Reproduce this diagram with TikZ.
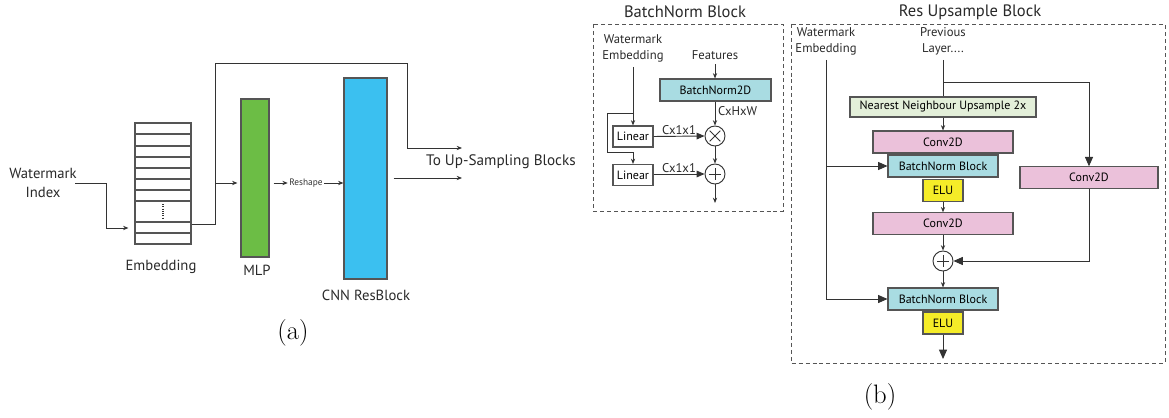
\documentclass[tikz,border=0pt]{standalone}
\usepackage{fontspec}
\newfontfamily\diagfont{PT Sans}
\usetikzlibrary{arrows.meta,positioning,calc}

\definecolor{linegray}{HTML}{333333}
\definecolor{boxgray}{HTML}{555555}
\definecolor{mlpgreen}{HTML}{6CBD45}
\definecolor{cnnblue}{HTML}{3BC0F0}
\definecolor{bnteal}{HTML}{A9DCE2}
\definecolor{convpink}{HTML}{EBC1DA}
\definecolor{nngreen}{HTML}{E3EFD9}
\definecolor{eluyellow}{HTML}{F5EC28}

\tikzset{
  block/.style={draw=boxgray, line width=0.8pt, inner sep=0pt, font=\diagfont\fontsize{9}{10}\selectfont},
  wire/.style={draw=linegray, line width=0.7pt},
  arr/.style={wire, -{Stealth[length=4pt,width=3.2pt]}},
  bigarr/.style={wire, -{Triangle[length=7pt,width=6pt]}},
  lbl/.style={font=\diagfont\fontsize{9.5}{12}\selectfont, align=center, text=linegray!80!black},
  biglbl/.style={font=\diagfont\fontsize{11}{14}\selectfont, align=center, text=linegray!80!black},
  titlelbl/.style={font=\diagfont\fontsize{12.4}{14}\selectfont, text=linegray!80!black},
  opnode/.style={circle, draw=linegray, line width=0.7pt, minimum size=15pt, inner sep=0pt},
  plusop/.style={opnode, path picture={
    \draw[linegray, line width=0.7pt] ($(path picture bounding box.north)!0.2!(path picture bounding box.south)$) -- ($(path picture bounding box.north)!0.8!(path picture bounding box.south)$)
      ($(path picture bounding box.west)!0.2!(path picture bounding box.east)$) -- ($(path picture bounding box.west)!0.8!(path picture bounding box.east)$);}},
  timesop/.style={opnode, path picture={
    \draw[linegray, line width=0.7pt] ($(path picture bounding box.center)+(-4pt,-4pt)$) -- ($(path picture bounding box.center)+(4pt,4pt)$)
      ($(path picture bounding box.center)+(-4pt,4pt)$) -- ($(path picture bounding box.center)+(4pt,-4pt)$);}},
}

\begin{document}
\begin{tikzpicture}[x=0.75pt,y=-0.75pt]
\useasboundingbox (0,0) rectangle (1169,417);

% ---------------- (a) embedding + MLP + CNN ----------------
\node[biglbl] (wmidx) at (43,183) {Watermark\\Index};
\node[block, minimum width=42pt, minimum height=90.75pt] (emb) at (163,183.5) {};
\foreach \yy in {134,146,157,168,179,190,201,222,233}
  \draw[boxgray, line width=0.8pt] (emb.west |- 0,\yy) -- (emb.east |- 0,\yy);
\draw[linegray, line width=1pt, dash pattern=on 0.6pt off 1.1pt] (163,204) -- (163,219);
\node[biglbl] (emblbl) at (161,267) {Embedding};

\node[block, fill=mlpgreen, minimum width=21pt, minimum height=118.5pt] (mlp) at (255,178) {};
\node[biglbl] (mlplbl) at (257,270) {MLP};

\node[font=\diagfont\fontsize{7}{8}\selectfont, inner sep=1pt, text=linegray] (reshape) at (306,183) {Reshape};

\node[block, fill=cnnblue, minimum width=32.25pt, minimum height=150.75pt] (cnn) at (365.5,178.5) {};
\node[biglbl] (cnnlbl) at (366,295) {CNN ResBlock};

\node[biglbl, font=\diagfont\fontsize{11.4}{13}\selectfont] (toup) at (501,162) {To Up-Sampling Blocks};

\coordinate (wmout) at (75,183);
\coordinate (split) at (215,183);
\coordinate (skipend) at (462,148);
\coordinate (cnnend) at (462,178);

\draw[arr] (wmout) -- (106,183) -- (106,228) -- ($(emb.west |- 0,228)+(-6,0)$);
\draw[wire] (emb.east |- 0,224) -- (215,224) -- (split);
\draw[arr] (split) -- (215,63) -- (407,63) -- (407,148) -- (skipend);
\draw[arr] (split) -- ($(mlp.west |- split)+(-3,0)$);
\draw[arr] ($(mlp.east |- reshape)+(4,0)$) -- (reshape.west);
\draw[arr] (reshape.east) -- (cnn.west |- reshape);
\draw[arr] ($(cnn.east |- cnnend)+(6,0)$) -- (cnnend);

\node[font=\fontsize{20}{24}\selectfont] (capa) at (293,333) {(a)};

% ---------------- (b) BatchNorm Block ----------------
\node[titlelbl] (bntitle) at (685,12) {BatchNorm Block};
\draw[boxgray, line width=0.7pt, dash pattern=on 3pt off 2.2pt] (593,24) rectangle (783,211);

\node[lbl] (wemb1) at (633,48.5) {Watermark\\Embedding};
\node[lbl] (feat) at (715,55) {Features};
\node[block, fill=bnteal, minimum width=83.25pt, minimum height=16.5pt] (bn2d) at (715.5,90) {BatchNorm2D};
\node[timesop] (mul) at (715,136) {};
\node[plusop] (add) at (715,174) {};
\node[block, minimum width=30pt, minimum height=15.75pt] (lin1) at (633,136.5) {Linear};
\node[block, minimum width=30pt, minimum height=15.75pt] (lin2) at (633,175) {Linear};
\coordinate (bnout) at (715,203);

\draw[arr] (feat.south) -- (bn2d.north -| feat);
\draw[arr] (bn2d.south -| mul) -- node[lbl, right, pos=0.4, inner sep=2pt] {CxHxW} (mul.north);
\draw[arr] (mul.south) -- (add.north);
\draw[arr] (add.south) -- (bnout);
\draw[arr] (wemb1.south) -- (lin1.north);
\draw[arr] (633,113) -- (607,113) -- (607,152) -- (633,152) -- (lin2.north);
\draw[wire, -{Triangle[length=6pt,width=5pt]}] (lin1.east) -- node[lbl, above, inner sep=1pt] {Cx1x1} (mul.west);
\draw[wire, -{Triangle[length=6pt,width=5pt]}] (lin2.east |- add) -- node[lbl, above, inner sep=1pt] {Cx1x1} (add.west);

% ---------------- (b) Res Upsample Block ----------------
\node[titlelbl] (rutitle) at (970,12) {Res Upsample Block};
\draw[boxgray, line width=0.7pt, dash pattern=on 3pt off 2.2pt] (791,24) rectangle (1165,363);

\node[lbl] (wemb2) at (826,41.5) {Watermark\\Embedding};
\node[lbl] (prev) at (943,41.5) {Previous\\Layer....};

\node[block, fill=nngreen, minimum width=139.5pt, minimum height=15pt] (nn) at (943,107) {Nearest Neighbour Upsample 2x};
\node[block, fill=convpink, minimum width=105pt, minimum height=16.5pt] (conv1) at (943,142) {Conv2D};
\node[block, fill=bnteal, minimum width=82.5pt, minimum height=16.5pt] (bnb1) at (943,166) {BatchNorm Block};
\node[block, fill=eluyellow, minimum width=30pt, minimum height=17pt] (elu1) at (943,190.5) {ELU};
\node[block, fill=convpink, minimum width=105pt, minimum height=16pt] (conv2) at (943,223.5) {Conv2D};
\node[plusop] (add2) at (943,261) {};
\node[block, fill=bnteal, minimum width=82.5pt, minimum height=16.5pt] (bnb2) at (943,299) {BatchNorm Block};
\node[block, fill=eluyellow, minimum width=30pt, minimum height=16.5pt] (elu2) at (943,323) {ELU};
\node[block, fill=convpink, minimum width=103.5pt, minimum height=16pt] (conv3) at (1089,177.5) {Conv2D};

\coordinate (skipsplit) at (943,82);
\coordinate (embsplit) at (826,166);
\coordinate (ruout) at (943,359);

\draw[wire] (wemb2.south) -- (embsplit);
\draw[bigarr] (embsplit) -- (826,299) -- (bnb2.west);
\draw[bigarr] (embsplit) -- (bnb1.west);
\draw[wire] (prev.south) -- (nn.north);
\draw[bigarr] (skipsplit) -- (skipsplit -| conv3) -- (conv3.north);
\draw[bigarr] (conv3.south) -- (conv3 |- add2) -- (add2.east);
\draw[arr] (nn.south) -- (conv1.north);
\draw[arr] (elu1.south) -- (conv2.north);
\draw[arr] (conv2.south) -- (add2.north);
\draw[arr] (add2.south) -- (bnb2.north);
\draw[bigarr] (elu2.south) -- (ruout);

\node[font=\fontsize{20}{24}\selectfont] (capb) at (880,397) {(b)};
\end{tikzpicture}
\end{document}
